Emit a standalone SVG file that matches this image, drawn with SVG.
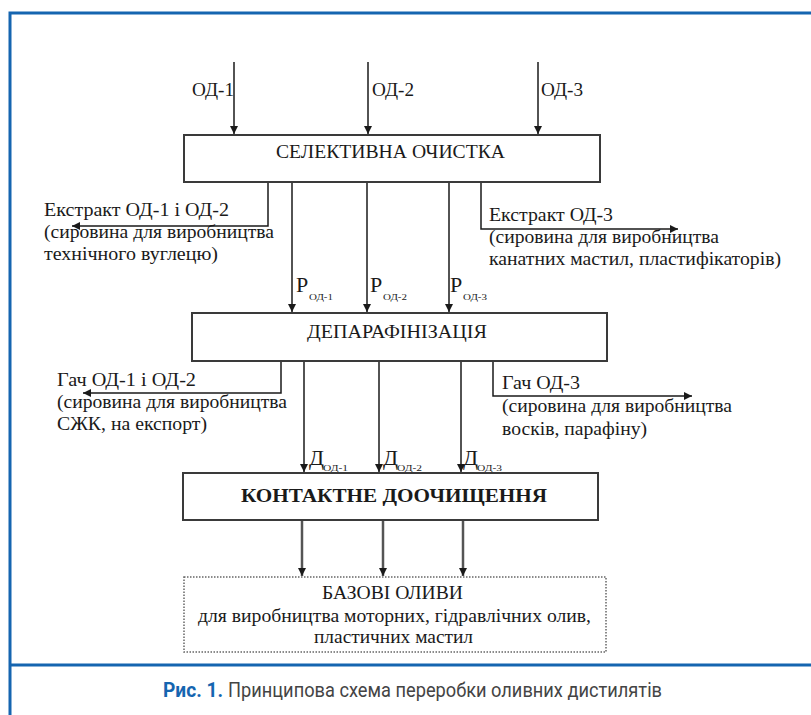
<svg xmlns="http://www.w3.org/2000/svg" width="811" height="715" viewBox="0 0 811 715">
<style>
.frame{stroke:#1565b0;stroke-width:3;fill:none}
.box{fill:#fff;stroke:#3a3a3a;stroke-width:2}
.dbox{fill:#fff;stroke:#666;stroke-width:1.5;stroke-dasharray:1.5 1.5}
.t{font-family:"Liberation Serif","Times New Roman",serif;fill:#1a1a1a;font-size:18px}
.b{font-weight:bold}
.big{font-size:22px}
.sub{font-size:9px}
.ln{stroke:#1a1a1a;stroke-width:1.5;fill:none;marker-end:url(#ah)}
.ln2{stroke:#555;stroke-width:2.5;fill:none;marker-end:url(#ah)}
.cap{font-family:"Roboto","Liberation Sans",sans-serif;font-size:21px}
</style>
<defs>
<marker id="ah" markerUnits="userSpaceOnUse" viewBox="0 0 10 10" refX="10" refY="5" markerWidth="9" markerHeight="8" orient="auto">
<path d="M0,0 L10,5 L0,10 z" fill="#1a1a1a"/>
</marker>
</defs>
<rect width="811" height="715" fill="#fff"/>
<g id="frame">
<path class="frame" d="M10,715 V13 H811"/>
<path class="frame" d="M10,665 H811"/>
</g>
<g id="connectors">
<path class="ln" d="M234,62 V134"/>
<path class="ln" d="M368,62 V134"/>
<path class="ln" d="M538,62 V134"/>
<path class="ln" d="M268,182 V226 H72"/>
<path class="ln" d="M292,182 V312"/>
<path class="ln" d="M367,182 V312"/>
<path class="ln" d="M449,182 V312"/>
<path class="ln" d="M481,182 V229 H678"/>
<path class="ln" d="M281,361 V393 H83"/>
<path class="ln" d="M304,361 V472"/>
<path class="ln" d="M379,361 V472"/>
<path class="ln" d="M461,361 V472"/>
<path class="ln" d="M493,361 V396 H692"/>
<path class="ln2" d="M302,520 V576"/>
<path class="ln2" d="M383,520 V576"/>
<path class="ln2" d="M463,520 V576"/>
</g>
<g id="labels">
<text class="t" x="192" y="96" textLength="42" lengthAdjust="spacingAndGlyphs">ОД-1</text>
<text class="t" x="372" y="96" textLength="42" lengthAdjust="spacingAndGlyphs">ОД-2</text>
<text class="t" x="541" y="96" textLength="42" lengthAdjust="spacingAndGlyphs">ОД-3</text>
<text class="t" x="44" y="216" textLength="185" lengthAdjust="spacingAndGlyphs">Екстракт ОД-1 і ОД-2</text>
<text class="t" x="44" y="238" textLength="230" lengthAdjust="spacingAndGlyphs">(сировина для виробництва</text>
<text class="t" x="44" y="260" textLength="174" lengthAdjust="spacingAndGlyphs">технічного вуглецю)</text>
<text class="t" x="489" y="221" textLength="124" lengthAdjust="spacingAndGlyphs">Екстракт ОД-3</text>
<text class="t" x="489" y="243" textLength="230" lengthAdjust="spacingAndGlyphs">(сировина для виробництва</text>
<text class="t" x="489" y="265" textLength="292" lengthAdjust="spacingAndGlyphs">канатних мастил, пластифікаторів)</text>
<text class="t big" x="296" y="292">Р</text><text class="t sub" x="309" y="300" textLength="24" lengthAdjust="spacingAndGlyphs">ОД-1</text>
<text class="t big" x="370" y="292">Р</text><text class="t sub" x="383" y="300" textLength="24" lengthAdjust="spacingAndGlyphs">ОД-2</text>
<text class="t big" x="450" y="292">Р</text><text class="t sub" x="463" y="300" textLength="24" lengthAdjust="spacingAndGlyphs">ОД-3</text>
<text class="t" x="57" y="386" textLength="139" lengthAdjust="spacingAndGlyphs">Гач ОД-1 і ОД-2</text>
<text class="t" x="57" y="408" textLength="230" lengthAdjust="spacingAndGlyphs">(сировина для виробництва</text>
<text class="t" x="57" y="430" textLength="150" lengthAdjust="spacingAndGlyphs">СЖК, на експорт)</text>
<text class="t" x="502" y="389" textLength="78" lengthAdjust="spacingAndGlyphs">Гач ОД-3</text>
<text class="t" x="502" y="412" textLength="230" lengthAdjust="spacingAndGlyphs">(сировина для виробництва</text>
<text class="t" x="502" y="435" textLength="145" lengthAdjust="spacingAndGlyphs">восків, парафіну)</text>
<text class="t big" x="309" y="465">Д</text><text class="t sub" x="323" y="471" textLength="25" lengthAdjust="spacingAndGlyphs">ОД-1</text>
<text class="t big" x="383" y="465">Д</text><text class="t sub" x="397" y="471" textLength="25" lengthAdjust="spacingAndGlyphs">ОД-2</text>
<text class="t big" x="463" y="465">Д</text><text class="t sub" x="477" y="471" textLength="25" lengthAdjust="spacingAndGlyphs">ОД-3</text>
</g>
<g id="n1">
<rect class="box" x="184" y="135" width="416" height="47"/>
<text class="t" x="276" y="158" textLength="229" lengthAdjust="spacingAndGlyphs">СЕЛЕКТИВНА ОЧИСТКА</text>
</g>
<g id="n2">
<rect class="box" x="192" y="313" width="415" height="48"/>
<text class="t" x="307" y="338" textLength="180" lengthAdjust="spacingAndGlyphs">ДЕПАРАФІНІЗАЦІЯ</text>
</g>
<g id="n3">
<rect class="box" x="183" y="473" width="415" height="47"/>
<text class="t b" x="241" y="502" font-size="21" textLength="306" lengthAdjust="spacingAndGlyphs">КОНТАКТНЕ ДООЧИЩЕННЯ</text>
</g>
<g id="n4">
<rect class="dbox" x="184" y="577" width="422" height="75"/>
<text class="t" x="322" y="599" textLength="141" lengthAdjust="spacingAndGlyphs">БАЗОВІ ОЛИВИ</text>
<text class="t" x="198" y="622" textLength="393" lengthAdjust="spacingAndGlyphs">для виробництва моторних, гідравлічних олив,</text>
<text class="t" x="314" y="643" textLength="159" lengthAdjust="spacingAndGlyphs">пластичних мастил</text>
</g>
<g id="caption">
<text class="cap" x="163" y="697" fill="#1565b0" font-weight="bold" textLength="60" lengthAdjust="spacingAndGlyphs">Рис. 1.</text>
<text class="cap" x="228" y="697" fill="#444" textLength="434" lengthAdjust="spacingAndGlyphs">Принципова схема переробки оливних дистилятів</text>
</g>
</svg>
